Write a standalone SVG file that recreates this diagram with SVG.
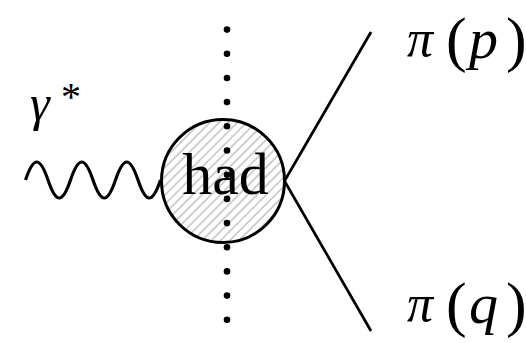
<svg xmlns="http://www.w3.org/2000/svg" width="526" height="343" viewBox="0 0 526 343">
<style>
.ln{fill:none;stroke:#000;stroke-width:2.7;stroke-linecap:butt}
.wave{fill:none;stroke:#000;stroke-width:3.2}
.blob{fill:url(#hatch);stroke:#000;stroke-width:3}
.dot{fill:#000}
.it{font-style:italic}
</style>
<defs>
<pattern id="hatch" patternUnits="userSpaceOnUse" width="6.5" height="10" patternTransform="rotate(45)">
<rect width="6.5" height="10" fill="#fff"/>
<line x1="1" y1="0" x2="1" y2="10" stroke="#aaa" stroke-width="1.1"/>
</pattern>
</defs>
<rect width="526" height="343" fill="#fff"/>
<g id="connectors">
<path id="photon" class="wave" d="M25.5,180 c8.1,-24 14.4,-24 22.5,0 c8.1,24 14.4,24 22.5,0 c8.1,-24 14.4,-24 22.5,0 c8.1,24 14.4,24 22.5,0 c8.1,-24 14.4,-24 22.5,0 c8.1,24 14.4,24 22.5,0"/>
<line id="pion-p" class="ln" x1="284.5" y1="181" x2="371" y2="32"/>
<line id="pion-q" class="ln" x1="284.5" y1="181" x2="371" y2="331"/>
</g>
<g id="had">
<circle class="blob" cx="223" cy="181" r="61.5"/>
</g>
<g id="cut">
<circle class="dot" cx="227" cy="29.6" r="3.3"/>
<circle class="dot" cx="227" cy="53.8" r="3.3"/>
<circle class="dot" cx="227" cy="78" r="3.3"/>
<circle class="dot" cx="227" cy="102.1" r="3.3"/>
<circle class="dot" cx="227" cy="126.3" r="3.3"/>
<circle class="dot" cx="227" cy="150.5" r="3.3"/>
<circle class="dot" cx="227" cy="174.7" r="3.3"/>
<circle class="dot" cx="227" cy="198.9" r="3.3"/>
<circle class="dot" cx="227" cy="223.1" r="3.3"/>
<circle class="dot" cx="227" cy="247.2" r="3.3"/>
<circle class="dot" cx="227" cy="271.4" r="3.3"/>
<circle class="dot" cx="227" cy="295.6" r="3.3"/>
<circle class="dot" cx="227" cy="319.8" r="3.3"/>
</g>
<g font-family="Liberation Serif, DejaVu Serif, serif" fill="#000">
<g id="had-label">
<text x="225.5" y="194" font-size="60" text-anchor="middle">had</text>
</g>
<g id="gamma-label">
<text class="it" x="30" y="120" font-size="50">γ</text>
<text x="61" y="110" font-size="40">*</text>
</g>
<g id="pi-p-label">
<text class="it" x="407" y="56" font-size="52">π</text>
<text x="446" y="60" font-size="62">(</text>
<text class="it" x="469" y="58" font-size="58">p</text>
<text x="506" y="60" font-size="62">)</text>
</g>
<g id="pi-q-label">
<text class="it" x="407" y="321" font-size="52">π</text>
<text x="446" y="325" font-size="62">(</text>
<text class="it" x="469" y="323" font-size="58">q</text>
<text x="506" y="325" font-size="62">)</text>
</g>
</g>
</svg>
